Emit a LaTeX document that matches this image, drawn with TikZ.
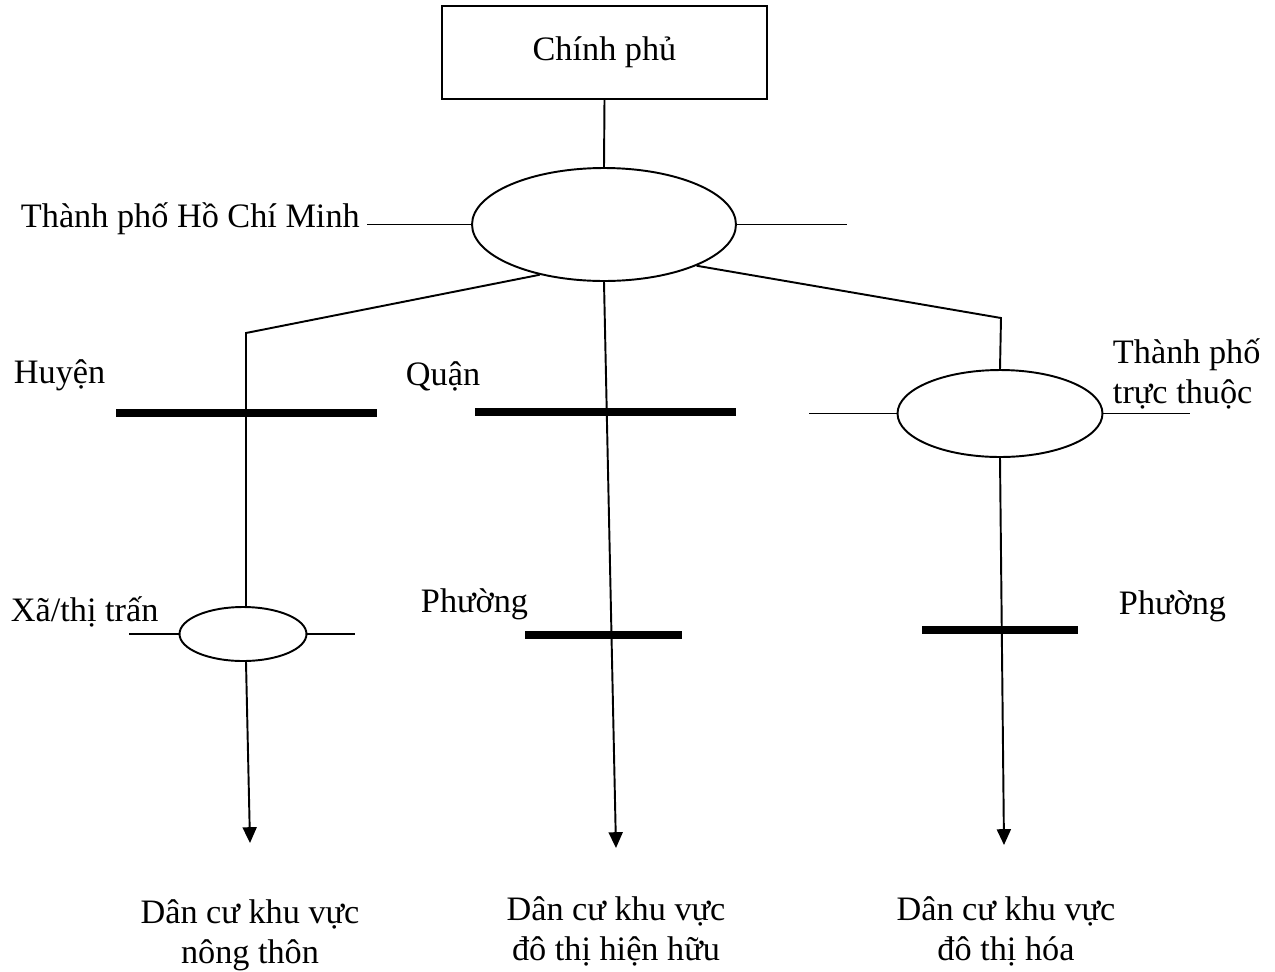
\documentclass[tikz,border=0pt]{standalone}
\usepackage{fontspec}
\setmainfont{Liberation Serif}
\usetikzlibrary{positioning, shapes.geometric, arrows.meta, calc}

\begin{document}
\begin{tikzpicture}[x=0.02cm, y=-0.02cm,
    font=\fontsize{19.5}{22.7}\selectfont, line width=1.1pt,
    oval/.style={draw, ellipse, inner sep=0pt},
    lbl/.style={inner sep=0pt},
    bar/.style={line width=4.6pt},
    down/.style={-{Triangle[length=9pt,width=8pt]}}]
    \useasboundingbox (0,0) rectangle (1275,971);

    % top of the tree
    \node[draw, line width=0.8pt, minimum width=6.5cm, minimum height=1.86cm] (gov) at (604.5,52.5) {\raisebox{-3pt}{Chính phủ}};
    \node[oval, minimum width=5.28cm, minimum height=2.26cm] (hcm) at (604,224.5) {};
    \node[lbl, inner xsep=0.12cm, anchor=base west] (hcmlbl) at (14,227) {Thành phố Hồ Chí Minh};
    \draw (gov.south) -- (hcm.north);
    \draw (hcm.west) -- (hcmlbl.east |- hcm.west);
    \draw (hcm.east) -- ++(110,0);

    % second level
    \node[lbl, anchor=base west] (huyen) at (13,383) {Huyện};
    \node[lbl, anchor=base west] (quan) at (405,385) {Quận};
    \node[oval, minimum width=4.1cm, minimum height=1.74cm] (tp) at (1000,413.5) {};
    \node[lbl, align=left, anchor=west] (tplbl) at (1112,374) {Thành phố\\trực thuộc};
    \draw (tp.west) -- ++(-88,0);
    \draw (tp.east) -- ++(87,0);
    \draw[bar] (116,413) -- (377,413);
    \draw[bar] (475,412) -- (736,412);

    % third level
    \node[lbl, anchor=base west] (xalbl) at (10,621) {Xã/thị trấn};
    \node[oval, minimum width=2.54cm, minimum height=1.08cm] (xa) at (243,634) {};
    \node[lbl, anchor=base west] (phuong1) at (420,612) {Phường};
    \node[lbl, anchor=base west] (phuong2) at (1118,614) {Phường};
    \draw (xa.west) -- ++(-50,0);
    \draw (xa.east) -- ++(48,0);
    \draw[bar] (525,635) -- (682,635);
    \draw[bar] (922,630) -- (1078,630);

    % residents
    \node[lbl, align=center] (rural) at (250,935) {Dân cư khu vực\\nông thôn};
    \node[lbl, align=center] (urban) at (616,931) {Dân cư khu vực\\đô thị hiện hữu};
    \node[lbl, align=center] (newurb) at (1006,931) {Dân cư khu vực\\đô thị hóa};
    \coordinate (kL) at (246,333);
    \coordinate (kR) at (1001,318);
    \coordinate (endL) at (250,843);
    \coordinate (endM) at (616,848);
    \coordinate (endR) at (1004,845);

    \draw (hcm.218) -- (kL) -- (kL |- xa.north);
    \draw[down] (kL |- xa.south) -- (endL);
    \draw[down] (hcm.south) -- (endM);
    \draw (hcm.336) -- (kR) -- (tp.north);
    \draw[down] (tp.south) -- (endR);
\end{tikzpicture}
\end{document}
